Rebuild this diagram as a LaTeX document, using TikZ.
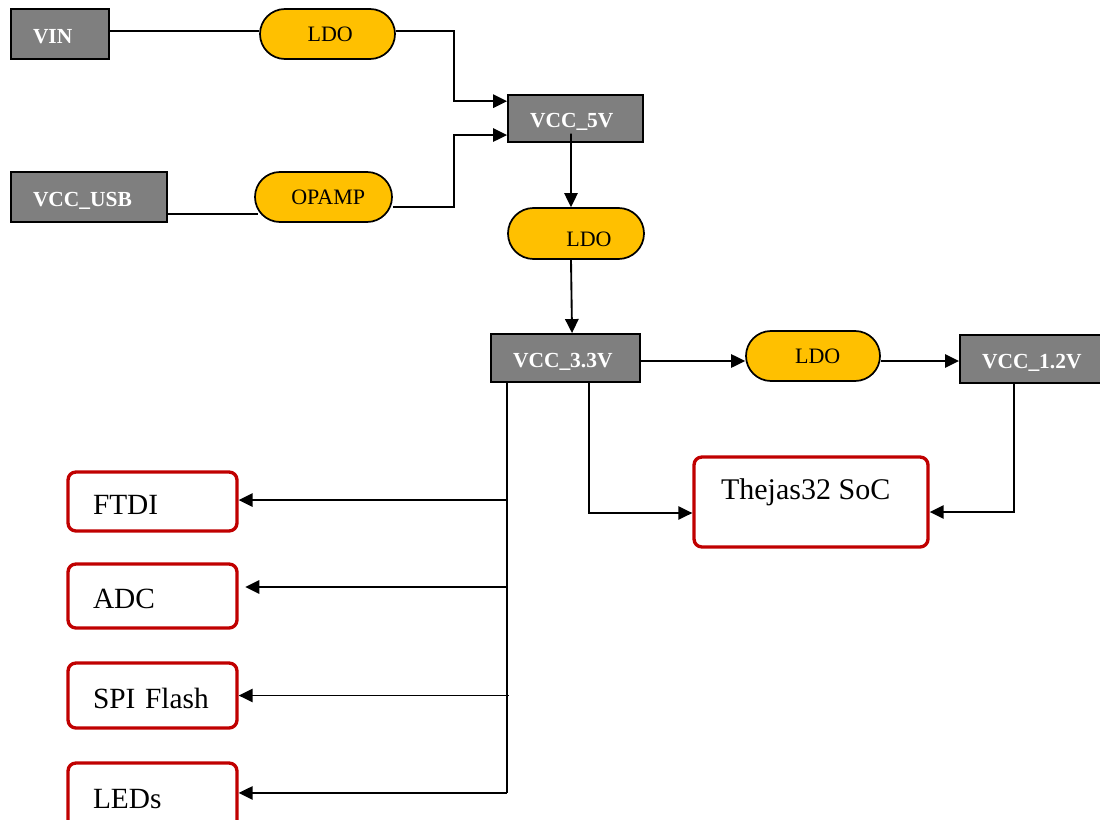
\documentclass[tikz,border=0pt]{standalone}
\usepackage{fontspec}
\setmainfont{Liberation Serif}
\usetikzlibrary{shapes.misc,arrows.meta,calc}
\definecolor{boxgray}{HTML}{7F7F7F}
\definecolor{pillyel}{HTML}{FFC000}
\definecolor{boxred}{HTML}{C00000}
\begin{document}
\begin{tikzpicture}[x=0.75pt,y=-0.75pt,
  gbox/.style={draw=black,line width=1.4pt,fill=boxgray,text=white,align=left,inner xsep=16.5pt,inner ysep=0pt,
    text height=13.8pt,text depth=0pt,font=\fontsize{16.1}{18}\selectfont\bfseries},
  pill/.style={draw=black,line width=1.3pt,fill=pillyel,rounded rectangle,inner sep=0pt,
    font=\fontsize{16.5}{19}\selectfont},
  rbox/.style={draw=boxred,line width=2.5pt,rounded corners=6pt,fill=white,align=left,inner xsep=18.75pt,inner ysep=0pt,
    text width=89.25pt,minimum width=126.75pt,text height=19pt,text depth=0pt,font=\fontsize{22}{24}\selectfont},
  arr/.style={line width=1.4pt,-{Triangle[length=10.5pt,width=10pt]}},
  ln/.style={line width=1.4pt}]
\useasboundingbox (0,0) rectangle (1100,820);
% gray boxes
\node[gbox,text width=40.5pt,minimum height=37.5pt] (vin) at (60,34) {VIN};
\node[gbox,text width=84pt,minimum height=37.5pt] (vusb) at (89,197) {VCC\_USB};
\node[gbox,text width=68.25pt,minimum height=35.25pt] (v5) at (575.5,118.5) {VCC\_5V};
\node[gbox,text width=78.75pt,minimum height=36pt] (v33) at (565.5,358) {VCC\_3.3V};
\node[gbox,text width=75pt,minimum height=36pt] (v12) at (1032,359) {VCC\_1.2V};
% pills
\node[pill,minimum width=101.25pt,minimum height=37.5pt] (ldo1) at (327.5,34) {\hspace*{4pt}LDO};
\node[pill,minimum width=102.75pt,minimum height=37.5pt] (opamp) at (323.5,197) {\hspace*{7pt}OPAMP};
\node[pill,minimum width=102pt,minimum height=38.25pt,
  label={[name=ldo2t,xshift=9.75pt,yshift=-4.5pt,font=\fontsize{16.5}{19}\selectfont]center:LDO}] (ldo2) at (576,233.5) {};
\node[pill,minimum width=100.5pt,minimum height=37.5pt] (ldo3) at (813,356) {\hspace*{7pt}LDO};
% red boxes
\node[draw=boxred,line width=2.5pt,rounded corners=6pt,fill=white,minimum width=175.5pt,minimum height=67.5pt,
  label={[name=soct,yshift=7.5pt,xshift=-4pt,font=\fontsize{22.5}{26}\selectfont]center:Thejas32 SoC}] (soc) at (811,502) {};
\node[rbox,minimum height=44.25pt] (ftdi) at (152.5,501.5) {FTDI};
\node[rbox,minimum height=48pt] (adc) at (152.5,596) {ADC};
\node[rbox,minimum height=48.75pt] (spi) at (152.5,695.5) {SPI Flash};
\node[rbox,minimum height=48.75pt] (leds) at (152.5,795.5) {LEDs};
% connectors
\draw[ln] ([yshift=2.25pt]vin.east) -- ([yshift=2.25pt]ldo1.west);
\draw[ln] ([yshift=-12.75pt]vusb.east) -- ([xshift=3pt,yshift=-12.75pt]opamp.west);
\draw[arr] ([yshift=2.25pt]ldo1.east) -- ++(58,0) |- ([yshift=13pt]v5.west);
\draw[arr] ([yshift=-7.5pt]opamp.east) -- ++(61,0) |- ([yshift=-12.4pt]v5.west);
\draw[arr] ([xshift=-3.4pt,yshift=7pt]v5.south) -- ([xshift=-3.75pt]ldo2.north);
\draw[arr] ([xshift=-3.75pt]ldo2.south) -- ([xshift=4.9pt]v33.north);
\coordinate (ldo3in) at ([yshift=-2.25pt]v33.east -| ldo3.west);
\draw[arr] ([yshift=-2.25pt]v33.east) -- (ldo3in);
\draw[arr] ([yshift=-3.75pt]ldo3.east) -- ([yshift=-1.5pt]v12.west);
\draw[arr] ([xshift=17.6pt]v33.south) |- ([yshift=-8.25pt]soc.west);
\draw[arr] ([xshift=-13.5pt]v12.south) |- ([yshift=-7.5pt]soc.east);
% bus
\coordinate (bus) at ([xshift=-43.9pt]v33.south);
\coordinate (ftdiin) at ([yshift=1.1pt]ftdi.east);
\coordinate (adcin) at ([xshift=5pt,yshift=6.75pt]adc.east);
\coordinate (spiin) at (spi.east);
\coordinate (ledsin) at ([yshift=1.9pt]leds.east);
\coordinate (busend) at (bus |- ledsin);
\coordinate (spibr) at ([xshift=1.5pt]bus |- spiin);
\draw[ln] (bus) -- (busend);
\draw[arr] (bus |- ftdiin) -- (ftdiin);
\draw[arr] (bus |- adcin) -- (adcin);
\draw[arr] (spibr) -- (spiin);
\draw[arr] (busend) -- (ledsin);
\end{tikzpicture}
\end{document}
